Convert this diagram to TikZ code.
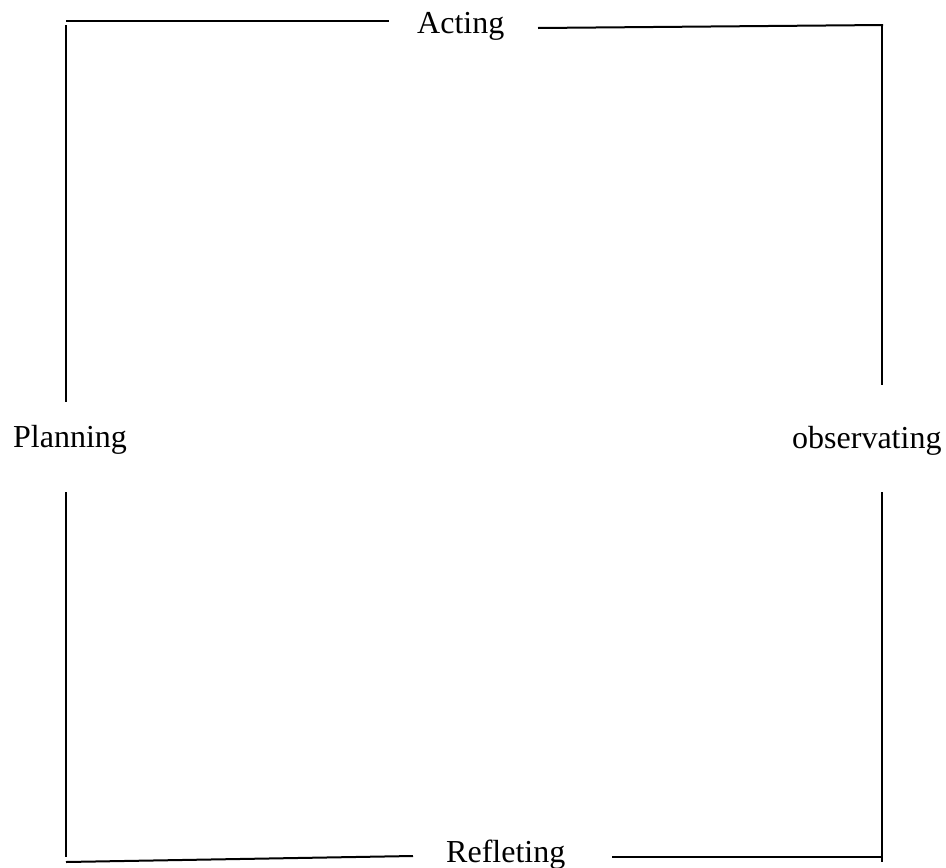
\documentclass[tikz,border=0pt]{standalone}
\usepackage{fontspec}
\setmainfont{Liberation Serif}
\begin{document}
\begin{tikzpicture}[x=1pt,y=-1pt,
  lbl/.style={inner sep=0pt,anchor=base west,font=\fontsize{32}{37}\selectfont},
  seg/.style={line width=2pt,line cap=butt}]
\useasboundingbox (0,0) rectangle (946,868);
% labels
\node[lbl] (acting) at (417,33) {Acting};
\node[lbl] (planning) at (13,447) {Planning};
\node[lbl] (observ) at (792,448) {observating};
\node[lbl] (reflet) at (446,862) {Refleting};
% end points
\coordinate (tl1) at (66,21);
\coordinate (tl2) at (389,21);
\coordinate (tr1) at (538,28);
\coordinate (tr2) at (883,25);
\coordinate (lv1) at (66,25);
\coordinate (lv2) at (66,402);
\coordinate (lv3) at (66,492);
\coordinate (lv4) at (66,857);
\coordinate (rv1) at (882,26);
\coordinate (rv2) at (882,385);
\coordinate (rv3) at (882,492);
\coordinate (rv4) at (882,862);
\coordinate (bl1) at (66,862);
\coordinate (bl2) at (413,856);
\coordinate (br1) at (612,857);
\coordinate (br2) at (882,857);
% lines
\draw[seg] (tl1) -- (tl2);
\draw[seg] (tr1) -- (tr2);
\draw[seg] (lv1) -- (lv2);
\draw[seg] (lv3) -- (lv4);
\draw[seg] (rv1) -- (rv2);
\draw[seg] (rv3) -- (rv4);
\draw[seg] (bl1) -- (bl2);
\draw[seg] (br1) -- (br2);
\end{tikzpicture}
\end{document}
